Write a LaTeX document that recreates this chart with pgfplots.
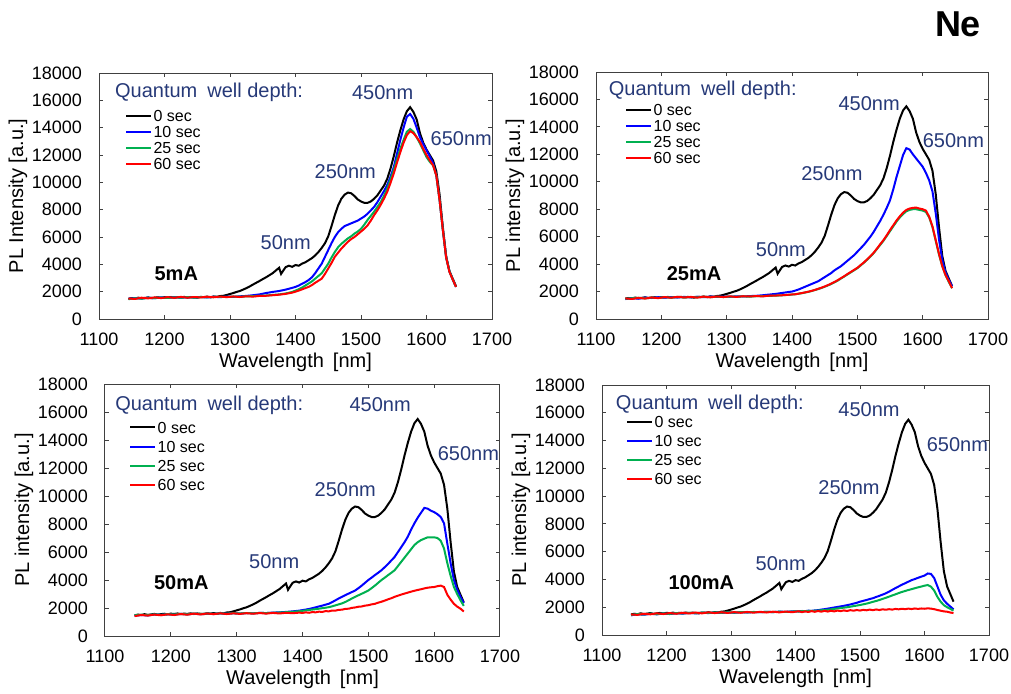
\documentclass[border=0pt]{standalone}
\usepackage{fontspec}
\setmainfont{Liberation Sans}
\usepackage{pgfplots}
\usepackage{pgfplotstable}
\pgfplotsset{compat=1.18}
\definecolor{navy}{RGB}{38,57,120}
\definecolor{xgreen}{RGB}{0,176,80}
\definecolor{xblue}{RGB}{0,0,255}
\definecolor{xred}{RGB}{255,0,0}

% 0 sec reference curve (same in all panels)
\pgfplotstableread{
x y
1145 1480
1150 1530
1155 1500
1160 1560
1165 1510
1170 1540
1175 1580
1180 1520
1185 1560
1190 1590
1195 1540
1200 1600
1205 1570
1210 1610
1215 1560
1220 1600
1225 1580
1230 1620
1235 1570
1240 1610
1245 1590
1250 1560
1255 1620
1260 1600
1265 1640
1270 1590
1275 1650
1280 1620
1285 1680
1290 1700
1295 1760
1300 1830
1305 1900
1310 1980
1315 2050
1320 2150
1325 2260
1330 2380
1335 2520
1340 2650
1345 2780
1350 2920
1355 3050
1360 3200
1365 3350
1370 3550
1375 3750
1378 3300
1380 3450
1385 3800
1390 3900
1395 3820
1400 3950
1405 3900
1410 4050
1415 4150
1420 4300
1425 4450
1430 4650
1435 4900
1440 5200
1445 5550
1450 6050
1455 6800
1460 7600
1465 8300
1470 8800
1475 9100
1480 9250
1485 9200
1490 9000
1495 8750
1500 8600
1505 8500
1510 8500
1515 8600
1520 8800
1525 9050
1530 9400
1535 9750
1540 10250
1545 11000
1550 11900
1555 12900
1560 13800
1565 14600
1570 15200
1575 15500
1580 15150
1585 14600
1590 13600
1595 12900
1600 12400
1605 12000
1610 11600
1615 10800
1620 9100
1625 6700
1630 4600
1635 3500
1640 2950
1645 2400
}\tblack

\pgfplotstableread{
x b g r
1145 1480 1450 1500
1155 1530 1520 1470
1165 1500 1490 1560
1175 1560 1550 1510
1185 1520 1530 1580
1195 1580 1570 1530
1205 1550 1540 1600
1215 1600 1590 1550
1225 1560 1560 1620
1235 1590 1600 1560
1245 1570 1560 1610
1255 1610 1600 1580
1265 1580 1590 1630
1275 1620 1610 1590
1285 1600 1620 1640
1295 1640 1610 1600
1305 1620 1640 1650
1315 1660 1630 1610
1325 1690 1660 1660
1335 1740 1670 1640
1345 1800 1700 1690
1355 1900 1720 1700
1365 1980 1760 1740
1375 2050 1800 1780
1385 2150 1870 1840
1395 2280 1980 1930
1400 2350 2080 2000
1405 2450 2180 2080
1410 2580 2300 2170
1415 2700 2450 2260
1420 2850 2600 2350
1425 3050 2750 2480
1430 3350 2950 2650
1435 3700 3150 2800
1440 4050 3350 2950
1445 4550 3700 3300
1450 5050 4050 3700
1455 5550 4500 4100
1460 6000 4900 4550
1465 6350 5250 4850
1470 6600 5500 5150
1475 6800 5700 5400
1480 6900 5900 5650
1485 7000 6050 5850
1490 7100 6250 6000
1495 7200 6400 6200
1500 7350 6600 6400
1505 7500 6900 6600
1510 7700 7250 6850
1515 7950 7550 7200
1520 8200 7850 7600
1525 8550 8200 7950
1530 8950 8550 8350
1535 9350 9000 8800
1540 9800 9550 9300
1545 10400 10200 9950
1550 11100 10900 10650
1555 12100 11700 11450
1560 13100 12450 12200
1565 14000 13100 12900
1570 14800 13700 13450
1575 15000 13900 13750
1580 14650 13700 13600
1585 14000 13300 13300
1590 13300 12850 12950
1595 12800 12350 12450
1600 12350 11850 12000
1605 11900 11500 11600
1610 11400 11250 11250
1615 10500 10500 10500
1620 8700 8700 8700
1625 6500 6500 6500
1630 4500 4500 4500
1635 3500 3500 3450
1640 2900 2900 2900
1645 2350 2350 2350
}\tpa

\pgfplotstableread{
x b g r
1145 1450 1480 1500
1155 1520 1510 1460
1165 1480 1550 1540
1175 1560 1500 1490
1185 1530 1570 1570
1195 1590 1530 1520
1205 1550 1600 1600
1215 1600 1560 1550
1225 1570 1610 1620
1235 1610 1570 1570
1245 1580 1600 1610
1255 1620 1580 1560
1265 1590 1620 1630
1275 1630 1590 1580
1285 1610 1630 1640
1295 1640 1600 1600
1305 1620 1640 1650
1315 1650 1620 1610
1325 1640 1650 1660
1335 1670 1630 1640
1345 1690 1660 1670
1355 1730 1670 1650
1365 1780 1690 1700
1375 1830 1700 1710
1385 1900 1730 1730
1395 1970 1760 1770
1400 2000 1780 1790
1405 2070 1810 1800
1410 2150 1840 1850
1415 2250 1880 1890
1420 2350 1930 1940
1425 2450 1980 1990
1430 2550 2040 2050
1435 2650 2110 2120
1440 2750 2180 2200
1445 2900 2260 2280
1450 3050 2350 2370
1455 3200 2450 2470
1460 3350 2550 2580
1465 3550 2670 2700
1470 3700 2800 2830
1475 3850 2950 2980
1480 4050 3100 3120
1485 4250 3250 3280
1490 4450 3400 3430
1495 4650 3550 3580
1500 4900 3700 3730
1505 5150 3900 3930
1510 5400 4100 4120
1515 5700 4320 4350
1520 6000 4550 4580
1525 6350 4800 4830
1530 6750 5100 5130
1535 7150 5400 5450
1540 7600 5700 5750
1545 8100 6050 6100
1550 8650 6400 6480
1555 9450 6750 6830
1560 10350 7100 7180
1565 11150 7400 7480
1570 11950 7650 7750
1575 12450 7850 7950
1580 12350 7950 8050
1585 12000 8000 8100
1590 11700 8000 8120
1595 11400 7950 8050
1600 11100 7900 8000
1605 10650 7800 7900
1610 10100 7400 7450
1615 9300 6700 6750
1620 7700 5700 5750
1625 5800 4700 4750
1630 4300 3850 3850
1635 3400 3200 3200
1640 2850 2700 2750
1645 2400 2250 2250
}\tpb

\pgfplotstableread{
x b g r
1145 1450 1480 1420
1155 1500 1520 1500
1165 1470 1490 1460
1175 1540 1550 1530
1185 1510 1510 1480
1195 1560 1560 1550
1205 1530 1540 1500
1215 1580 1580 1570
1225 1550 1550 1520
1235 1590 1600 1600
1245 1560 1570 1540
1255 1600 1610 1610
1265 1570 1580 1560
1275 1620 1620 1620
1285 1590 1600 1570
1295 1630 1630 1620
1305 1600 1610 1580
1315 1640 1640 1630
1325 1620 1620 1590
1335 1650 1650 1640
1345 1640 1640 1600
1355 1670 1660 1650
1365 1690 1680 1610
1375 1720 1700 1660
1385 1760 1730 1630
1395 1810 1770 1670
1400 1850 1800 1650
1405 1890 1830 1690
1410 1930 1860 1660
1415 1990 1890 1710
1420 2050 1920 1690
1425 2110 1950 1740
1430 2170 1990 1720
1435 2240 2020 1780
1440 2300 2060 1760
1445 2420 2120 1820
1450 2550 2190 1810
1455 2680 2260 1870
1460 2800 2330 1880
1465 2920 2430 1940
1470 3030 2550 1950
1475 3140 2680 2010
1480 3250 2800 2040
1485 3420 2910 2090
1490 3600 3020 2110
1495 3800 3130 2170
1500 4000 3250 2200
1505 4170 3420 2260
1510 4350 3600 2300
1515 4520 3800 2380
1520 4700 4000 2450
1525 4920 4170 2530
1530 5150 4350 2620
1535 5400 4520 2700
1540 5650 4700 2800
1545 6000 5000 2880
1550 6350 5300 2960
1555 6700 5600 3030
1560 7100 5900 3100
1565 7600 6200 3170
1570 8050 6500 3230
1575 8450 6700 3290
1580 8800 6850 3340
1585 9150 6950 3400
1590 9100 7050 3450
1595 8950 7050 3480
1600 8850 7050 3500
1605 8700 7000 3560
1610 8500 6800 3600
1615 8050 6250 3500
1620 6600 5200 2950
1625 5200 4300 2600
1630 4000 3500 2300
1635 3300 3000 2100
1640 2800 2550 1950
1645 2350 2150 1750
}\tpc

\pgfplotstableread{
x b g r
1145 1420 1450 1480
1155 1500 1510 1450
1165 1460 1480 1530
1175 1530 1540 1490
1185 1490 1500 1560
1195 1550 1560 1510
1205 1510 1520 1580
1215 1570 1580 1530
1225 1540 1550 1600
1235 1590 1600 1550
1245 1560 1570 1620
1255 1600 1610 1560
1265 1580 1590 1630
1275 1620 1630 1580
1285 1590 1600 1640
1295 1630 1640 1590
1305 1600 1610 1650
1315 1640 1650 1600
1325 1620 1630 1660
1335 1650 1660 1610
1345 1640 1640 1670
1355 1670 1670 1620
1365 1650 1650 1680
1375 1680 1680 1630
1385 1670 1660 1690
1395 1700 1690 1640
1400 1710 1700 1680
1405 1700 1690 1710
1410 1730 1720 1650
1415 1720 1710 1700
1420 1750 1740 1660
1425 1740 1730 1720
1430 1770 1750 1670
1435 1790 1760 1730
1440 1830 1780 1680
1445 1860 1800 1740
1450 1900 1820 1690
1455 1940 1850 1750
1460 1980 1880 1700
1465 2020 1910 1760
1470 2060 1940 1720
1475 2100 1970 1770
1480 2150 2000 1730
1485 2200 2040 1790
1490 2260 2080 1750
1495 2320 2120 1800
1500 2400 2160 1760
1505 2460 2210 1810
1510 2520 2260 1780
1515 2590 2320 1830
1520 2650 2390 1790
1525 2740 2450 1840
1530 2820 2520 1800
1535 2910 2600 1850
1540 3000 2680 1820
1545 3120 2760 1860
1550 3250 2850 1830
1555 3380 2930 1880
1560 3500 3020 1850
1565 3620 3100 1890
1570 3730 3170 1860
1575 3840 3240 1900
1580 3950 3300 1870
1585 4030 3370 1910
1590 4120 3430 1880
1595 4200 3490 1910
1600 4280 3550 1890
1605 4430 3600 1920
1610 4400 3480 1900
1615 4100 3200 1860
1620 3500 2750 1800
1625 2900 2400 1750
1630 2500 2150 1700
1635 2250 2000 1680
1640 2050 1880 1620
1645 1850 1760 1580
}\tpd

\tikzset{
  ann/.style={navy, font=\fontsize{10}{12}\selectfont, inner sep=0pt},
  cur/.style={font=\bfseries\fontsize{10}{12}\selectfont, inner sep=0pt},
}
\pgfplotsset{
  panel/.style={
    scale only axis,
    anchor=south west,
    xmin=1100, xmax=1700, ymin=0, ymax=18000,
    xtick={1100,1200,...,1700},
    ytick={0,2000,...,18000},
    scaled ticks=false,
    tick align=inside,
    major tick length=2pt,
    tick style={black!75, line width=0.5pt},
    axis line style={black!75, line width=0.5pt},
    /pgf/number format/.cd, 1000 sep={}, assume math mode=true,
    /pgfplots/.cd,
    tick label style={font=\fontsize{9}{10}\selectfont},
    xticklabel style={yshift=-3.3pt},
    yticklabel style={xshift=-5pt},
    clip=false,
    every axis plot/.append style={line width=1pt},
    legend cell align=left,
    legend image code/.code={\draw[##1, line width=1pt] (0pt,0pt) -- (12.5pt,0pt);},
    legend style={draw=none, fill=none, anchor=north west, inner sep=0pt,
      font=\fontsize{8}{9}\selectfont,
      nodes={inner sep=0.6pt, text depth=0pt}},
  },
}

\newcommand{\axlabels}[1]{%
  \path (rel axis cs:0.5,0) ++(0pt,-21.5pt) node[font=\fontsize{10}{12}\selectfont]{Wavelength\hspace{0.45em}[nm]};
  \path (rel axis cs:0,0.5) ++(-40.5pt,0pt) node[rotate=90, font=\fontsize{10}{12}\selectfont]{#1};
}

\begin{document}
\begin{tikzpicture}[x=1pt,y=1pt]
\path[use as bounding box] (0,0) rectangle (505.5,346.5);
\node[font=\bfseries\fontsize{18}{18}\selectfont, inner sep=0pt] at (479,334.5) {Ne};

% ---------------- 5 mA ----------------
\begin{axis}[panel, at={(49.5pt,187pt)}, width=196.5pt, height=123pt,
  legend style={at={(0.066,0.856)}, row sep=1.3pt}]
\addplot[black] table[x=x,y=y] {\tblack};
\addplot[xblue] table[x=x,y=b] {\tpa};
\addplot[xgreen] table[x=x,y=g] {\tpa};
\addplot[xred] table[x=x,y=r] {\tpa};
\legend{0 sec, 10 sec, 25 sec, 60 sec}
\node[ann, anchor=west] at (axis cs:1124,16600) {Quantum\hspace{0.5em}well depth:};
\node[ann] at (axis cs:1533,16560) {450nm};
\node[ann] at (axis cs:1476,10810) {250nm};
\node[ann] at (axis cs:1385,5580) {50nm};
\node[ann] at (axis cs:1653,13200) {650nm};
\node[cur] at (axis cs:1218,3340) {5mA};
\axlabels{PL Intensity [a.u.]}
\end{axis}

% ---------------- 25 mA ----------------
\begin{axis}[panel, at={(298pt,187pt)}, width=196pt, height=123.5pt,
  legend style={at={(0.074,0.877)}, row sep=1.3pt}]
\addplot[black] table[x=x,y=y] {\tblack};
\addplot[xblue] table[x=x,y=b] {\tpb};
\addplot[xgreen] table[x=x,y=g] {\tpb};
\addplot[xred] table[x=x,y=r] {\tpb};
\legend{0 sec, 10 sec, 25 sec, 60 sec}
\node[ann, anchor=west] at (axis cs:1119,16670) {Quantum\hspace{0.5em}well depth:};
\node[ann] at (axis cs:1518,15700) {450nm};
\node[ann] at (axis cs:1461,10610) {250nm};
\node[ann] at (axis cs:1383,5090) {50nm};
\node[ann] at (axis cs:1647,13030) {650nm};
\node[cur] at (axis cs:1250,3340) {25mA};
\axlabels{PL intensity [a.u.]}
\end{axis}

% ---------------- 50 mA ----------------
\begin{axis}[panel, at={(52.5pt,28.5pt)}, width=197.5pt, height=126pt,
  legend style={at={(0.061,0.856)}, row sep=2.8pt}]
\addplot[black] table[x=x,y=y] {\tblack};
\addplot[xblue] table[x=x,y=b] {\tpc};
\addplot[xgreen] table[x=x,y=g] {\tpc};
\addplot[xred] table[x=x,y=r] {\tpc};
\legend{0 sec, 10 sec, 25 sec, 60 sec}
\node[ann, anchor=west] at (axis cs:1115,16450) {Quantum\hspace{0.5em}well depth:};
\node[ann] at (axis cs:1518,16500) {450nm};
\node[ann] at (axis cs:1465,10490) {250nm};
\node[ann] at (axis cs:1357,5290) {50nm};
\node[ann] at (axis cs:1652,13000) {650nm};
\node[cur] at (axis cs:1216,3800) {50mA};
\axlabels{PL intensity [a.u.]}
\end{axis}

% ---------------- 100 mA ----------------
\begin{axis}[panel, at={(301pt,29pt)}, width=193.5pt, height=125pt,
  legend style={at={(0.062,0.882)}, row sep=2.8pt}]
\addplot[black] table[x=x,y=y] {\tblack};
\addplot[xblue] table[x=x,y=b] {\tpd};
\addplot[xgreen] table[x=x,y=g] {\tpd};
\addplot[xred] table[x=x,y=r] {\tpd};
\legend{0 sec, 10 sec, 25 sec, 60 sec}
\node[ann, anchor=west] at (axis cs:1121,16600) {Quantum\hspace{0.5em}well depth:};
\node[ann] at (axis cs:1514,16200) {450nm};
\node[ann] at (axis cs:1483,10600) {250nm};
\node[ann] at (axis cs:1377,5160) {50nm};
\node[ann] at (axis cs:1651,13680) {650nm};
\node[cur] at (axis cs:1254,3790) {100mA};
\axlabels{PL intensity [a.u.]}
\end{axis}
\end{tikzpicture}
\end{document}
